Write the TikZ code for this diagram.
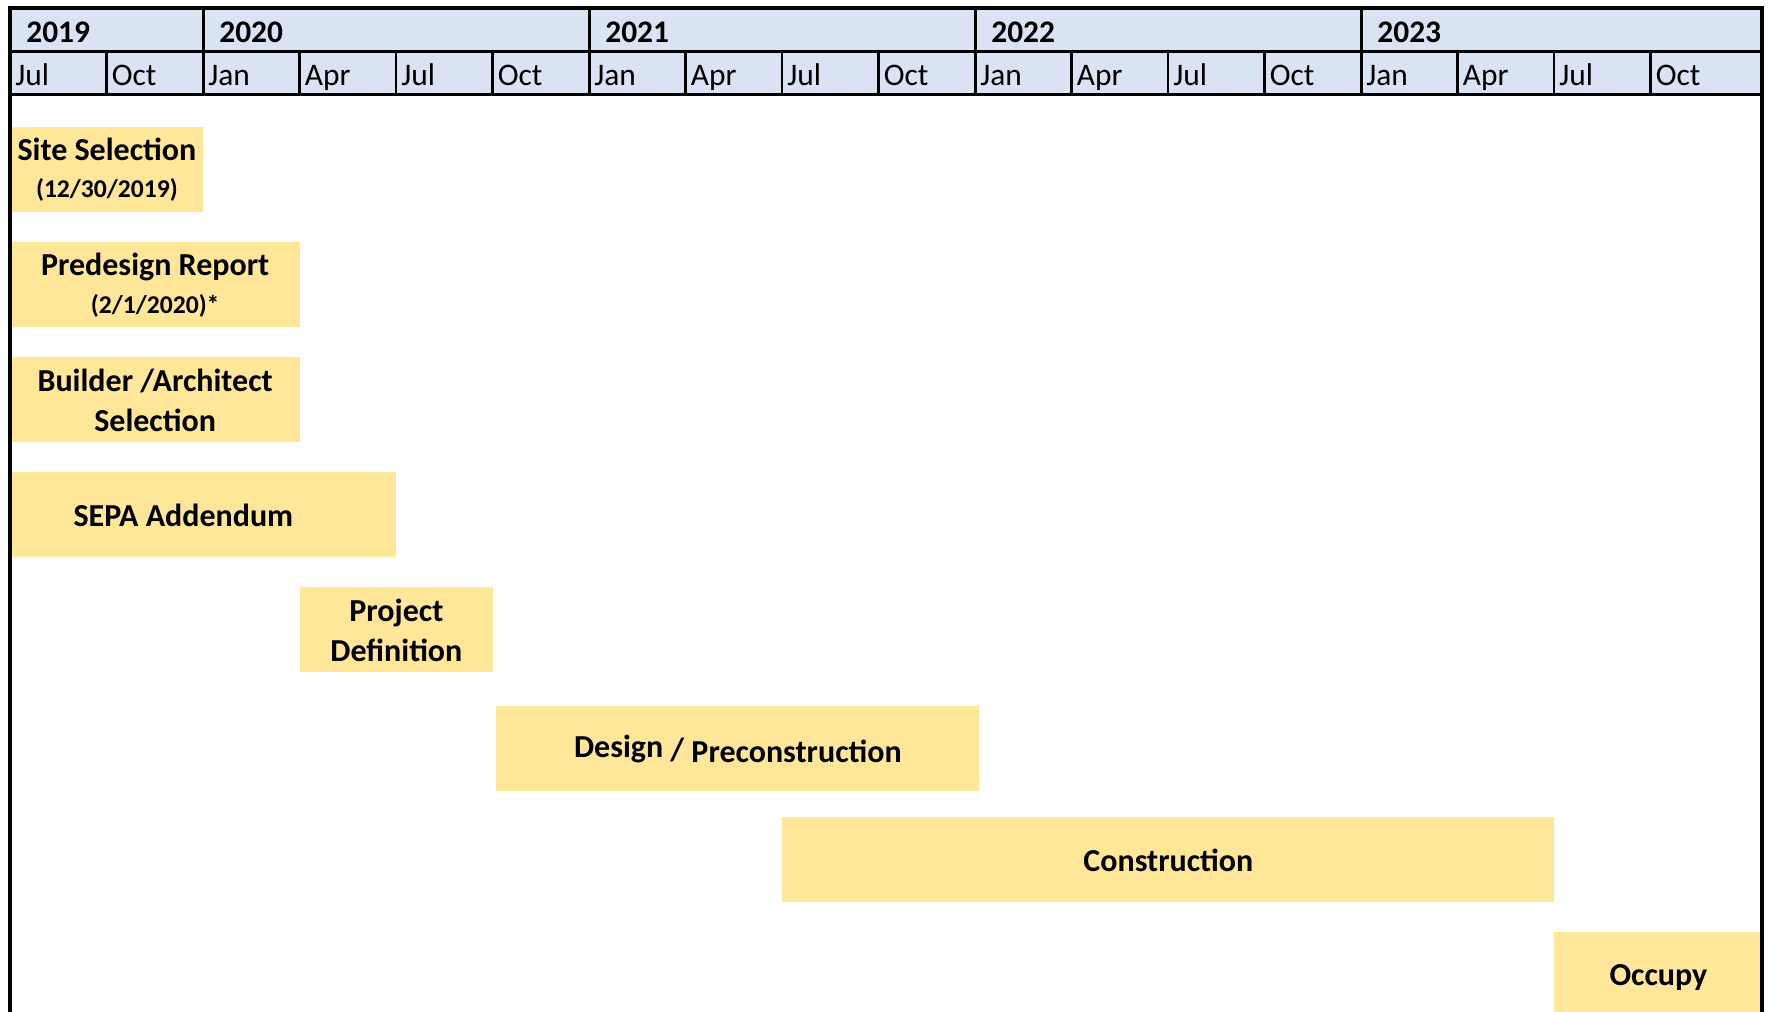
\documentclass[tikz,border=0pt]{standalone}
\usepackage{fontspec}
\setmainfont{Carlito}
\definecolor{headblue}{HTML}{DAE3F3}
\definecolor{bargold}{HTML}{FFE699}
\tikzset{
  bar/.style={fill=bargold, anchor=north west, inner sep=0pt, align=center,
    minimum height=42.5pt, font=\bfseries\fontsize{16}{20}\selectfont},
  yearlabel/.style={anchor=base west, inner sep=0pt, font=\bfseries\fontsize{15.7}{18}\selectfont},
  monthlabel/.style={anchor=base west, inner sep=0pt, font=\fontsize{15.7}{18}\selectfont},
  gridthick/.style={line width=1.5pt},
  gridthin/.style={line width=1.2pt}
}
\newcommand{\datetext}[1]{{\fontsize{12.8}{15}\selectfont #1}}
\begin{document}
\begin{tikzpicture}[x=0.5pt, y=-0.5pt]
    \useasboundingbox (0,0) rectangle (1769,1012);

    % Header
    \fill[headblue] (10,7.5) rectangle (1762,94.5);
    \foreach \yr/\xx in {2019/10, 2020/203, 2021/589, 2022/975, 2023/1361}
        \node[yearlabel] (y\yr) at (\xx+16,42) {\yr};
    \foreach \m [count=\i from 0] in {Jul,Oct,Jan,Apr,Jul,Oct,Jan,Apr,Jul,Oct,Jan,Apr,Jul,Oct,Jan,Apr,Jul,Oct}
        \node[monthlabel] (m\i) at (10+96.5*\i+5,85) {\m};

    % Grid lines
    \draw[gridthick] (10,51.5) -- (1762,51.5);
    \draw[gridthick] (10,94.5) -- (1762,94.5);
    \foreach \xx in {203,589,975,1361}
        \draw[gridthick] (\xx,7.5) -- (\xx,94.5);
    \foreach \i in {1,3,4,5,7,8,9,11,12,13,15,16,17}
        \draw[gridthin] (10+96.5*\i,51.5) -- (10+96.5*\i,94.5);

    % Tasks
    \node[bar, minimum width=96.5pt] (site) at (10,127)
        {Site Selection\\[-1.5pt]\datetext{(12/30/2019)}};
    \node[bar, minimum width=144.75pt] (predesign) at (10,242)
        {Predesign Report\\[-1pt]\datetext{(2/1/2020)*}};
    \node[bar, minimum width=144.75pt] (builder) at (10,357)
        {Builder /Architect\\Selection};
    \node[bar, minimum width=193pt] (sepa) at (10,472) {SEPA Addendum\hspace*{20pt}};
    \node[bar, minimum width=96.5pt] (project) at (299.5,587)
        {Project\\Definition};
    \node[bar, minimum width=241.5pt] (design) at (496,706)
        {\raisebox{2.5pt}{Design} \raisebox{1pt}{/} Preconstruction};
    \node[bar, minimum width=386pt] (construction) at (782,817) {Construction};
    \node[bar, minimum width=104pt, minimum height=45pt] (occupy) at (1554,932) {Occupy};

    % Outer frame
    \draw[line width=2pt] (10,1020) -- (10,7.5) -- (1762,7.5) -- (1762,1020);
\end{tikzpicture}
\end{document}
